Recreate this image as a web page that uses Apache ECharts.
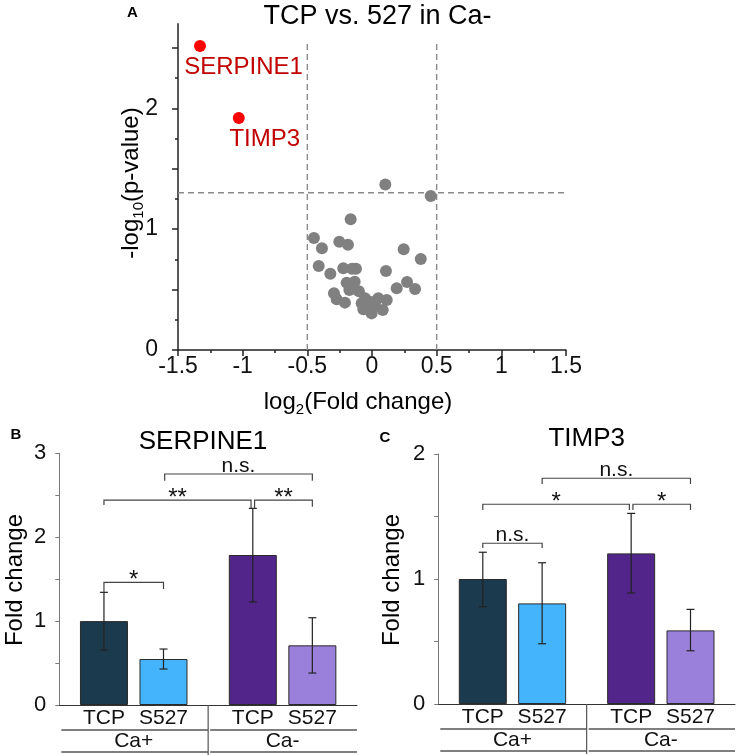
<!DOCTYPE html>
<html><head><meta charset="utf-8">
<script src="https://cdn.jsdelivr.net/npm/echarts@6/dist/echarts.min.js"></script>
<style>html,body{margin:0;padding:0;background:#fff}#c{width:736px;height:755px}</style>
</head><body><div id="c"></div>
<script>
// ---------- Panel A: volcano data ----------
const volcanoX = [0.103, 0.454, -0.165, -0.449, -0.253, -0.186, -0.387, 0.245, 0.377, -0.412,
  -0.222, -0.155, -0.124, -0.322, 0.108, 0.271, 0.191, 0.333, -0.196, -0.134,
  -0.101, -0.294, -0.273, -0.209, -0.175, -0.080, -0.054, -0.015, 0.049, 0.114,
  -0.067, -0.010, 0.083, -0.028, 0.023, -0.003, -0.045];
const volcanoY = [1.37, 1.274, 1.081, 0.927, 0.896, 0.871, 0.841, 0.833, 0.753, 0.695,
  0.676, 0.673, 0.673, 0.631, 0.654, 0.563, 0.510, 0.505, 0.557, 0.565,
  0.486, 0.469, 0.420, 0.392, 0.496, 0.386, 0.428, 0.400, 0.428, 0.414,
  0.337, 0.317, 0.331, 0.358, 0.372, 0.303, 0.360];
const hitNames = ['SERPINE1', 'TIMP3'];
const hitX = [-1.33, -1.03];
const hitY = [2.515, 1.92];
const fcCutoffs = [-0.5, 0.5];
const pCutoff = 1.301;
const cutoffTop = 2.55;
const volcanoXRange = [-1.5, 1.5];
const volcanoYMax = 2.7;
const volcanoYMajorTicks = [0, 0.5, 1, 1.5, 2, 2.5];
const volcanoYMinorTicks = [0.25, 0.75, 1.25, 1.75, 2.25];
const volcanoYLabels = [0, 1, 2];

// ---------- Panels B/C: bar data ----------
const barNames = ['TCP', 'S527', 'TCP', 'S527'];
const barPos = [1, 2, 3.5, 4.5];
const groupNames = ['Ca+', 'Ca-'];
const groupBounds = [[0.25, 2.75], [2.75, 5.25]];

const serpineMean = [1.0, 0.548, 1.788, 0.711];
const serpineLow  = [0.655, 0.429, 1.228, 0.381];
const serpineHigh = [1.343, 0.667, 2.344, 1.04];
const serpineYLabels = [0, 1, 2, 3];
// [x1, x2, yLine, yLeftEnd, yRightEnd, text]
const serpineBrackets = [
  [1, 2, 1.462, 1.343, 1.383, '*'],
  [1, 3.47, 2.443, 2.384, 2.348, '**'],
  [3.53, 4.5, 2.443, 2.348, 2.364, '**'],
  [2.02, 4.5, 2.753, 2.673, 2.673, 'n.s.']
];

const timpMean = [1.0, 0.805, 1.205, 0.589];
const timpLow  = [0.779, 0.482, 0.888, 0.426];
const timpHigh = [1.214, 1.13, 1.525, 0.757];
const timpYLabels = [0, 1, 2];
const timpBrackets = [
  [1, 2, 1.286, 1.248, 1.248, 'n.s.'],
  [1, 3.47, 1.598, 1.552, 1.552, '*'],
  [3.53, 4.5, 1.598, 1.552, 1.552, '*'],
  [2.0, 4.5, 1.806, 1.76, 1.76, 'n.s.']
];

// ---------- styles ----------
const FONT = '"Liberation Sans", Arial, Helvetica, sans-serif';
const barColors = ['#1b3a4e', '#44b4fc', '#52258a', '#9a80da'];

const chart = echarts.init(document.getElementById('c'), null, {renderer: 'canvas'});

function barData(mean) {
  return mean.map((v, i) => ({value: [barPos[i], v], itemStyle: {color: barColors[i]}}));
}
function errData(low, high) {
  return low.map((l, i) => [barPos[i], l, high[i]]);
}
function renderErr(params, api) {
  const x = api.value(0);
  const p1 = api.coord([x, api.value(2)]);
  const p2 = api.coord([x, api.value(1)]);
  const c = 4;
  const st = {stroke: '#222', lineWidth: 1.2};
  return {type: 'group', children: [
    {type: 'line', shape: {x1: p1[0], y1: p1[1], x2: p2[0], y2: p2[1]}, style: st},
    {type: 'line', shape: {x1: p1[0] - c, y1: p1[1], x2: p1[0] + c, y2: p1[1]}, style: st},
    {type: 'line', shape: {x1: p2[0] - c, y1: p2[1], x2: p2[0] + c, y2: p2[1]}, style: st}
  ]};
}
function renderBracket(params, api) {
  const x1 = api.value(0), x2 = api.value(1), y = api.value(2);
  const a = api.coord([x1, api.value(3)]);
  const b = api.coord([x1, y]);
  const c = api.coord([x2, y]);
  const d = api.coord([x2, api.value(4)]);
  const label = String(api.value(5));
  const isStar = label.indexOf('*') === 0;
  return {type: 'group', children: [
    {type: 'polyline', shape: {points: [a, b, c, d]}, style: {stroke: '#444', fill: null, lineWidth: 1.2}},
    {type: 'text', style: {text: label, x: (b[0] + c[0]) / 2,
      y: isStar ? b[1] - 1.5 : b[1] - 8.3,
      fill: '#111', font: (isStar ? '24px ' : '21px ') + FONT,
      align: 'center', verticalAlign: 'middle'}}
  ]};
}
function renderTable(params, api) {
  const s = api.value(0), e = api.value(1), idx = api.value(2);
  const ps = api.coord([s, 0]);
  const pe = api.coord([e, 0]);
  const y0 = ps[1];
  const st = {stroke: '#555', lineWidth: 1.6};
  const children = [
    {type: 'line', shape: {x1: ps[0] + 2, y1: y0 + 25, x2: pe[0], y2: y0 + 25}, style: st},
    {type: 'line', shape: {x1: ps[0] + 2, y1: y0 + 47, x2: pe[0], y2: y0 + 47}, style: st},
    {type: 'text', style: {text: groupNames[idx], x: (ps[0] + pe[0]) / 2, y: y0 + 36,
      fill: '#111', font: '21px ' + FONT, align: 'center', verticalAlign: 'middle'}}
  ];
  if (idx > 0) children.push({type: 'line', shape: {x1: ps[0], y1: y0, x2: ps[0], y2: y0 + 50}, style: {stroke: '#555', lineWidth: 1.2}});
  return {type: 'group', children};
}
const tableData = groupBounds.map((g, i) => [g[0], g[1], i]);

function barXAxis(gridIndex) {
  return {type: 'value', gridIndex, min: 0.25, max: 5.25,
    axisLine: {show: true, onZero: false, lineStyle: {color: '#333', width: 1}},
    axisTick: {show: false}, splitLine: {show: false},
    axisLabel: {customValues: barPos, margin: 3, color: '#111', fontSize: 21, fontFamily: FONT,
      formatter: v => barNames[barPos.indexOf(v)] || ''}};
}
function barYAxis(gridIndex, max, labels) {
  return {type: 'value', gridIndex, min: 0, max, interval: 0.5,
    axisLine: {show: true, onZero: false, lineStyle: {color: '#777', width: 1}},
    axisTick: {show: true, length: 4, lineStyle: {color: '#777'}},
    splitLine: {show: false},
    axisLabel: {customValues: labels, margin: 13, color: '#111', fontSize: 22, fontFamily: FONT}};
}

const dash = {color: '#8a8a8a', width: 1.4, type: [6, 4]};

const option = {
  animation: false,
  backgroundColor: '#fff',
  grid: [
    {left: 178, top: 23.7, width: 388, height: 326.3},
    {left: 59.3, top: 453.3, width: 297.7, height: 251.7},
    {left: 438.3, top: 454, width: 296.7, height: 250}
  ],
  xAxis: [
    {type: 'value', gridIndex: 0, min: volcanoXRange[0], max: volcanoXRange[1], interval: 0.5,
      axisLine: {show: true, onZero: false, lineStyle: {color: '#222', width: 1.5}},
      axisTick: {show: true, length: 6, lineStyle: {color: '#222', width: 1.5}},
      minorTick: {show: true, splitNumber: 2, length: 3, lineStyle: {color: '#222', width: 1.5}},
      splitLine: {show: false}, minorSplitLine: {show: false},
      axisLabel: {margin: 5, color: '#111', fontSize: 23, fontFamily: FONT}},
    barXAxis(1),
    barXAxis(2)
  ],
  yAxis: [
    {type: 'value', gridIndex: 0, min: 0, max: volcanoYMax,
      axisLine: {show: true, onZero: false, lineStyle: {color: '#222', width: 1.5}},
      axisTick: {show: true, length: 6, customValues: volcanoYMajorTicks, lineStyle: {color: '#222', width: 1.5}},
      splitLine: {show: false},
      axisLabel: {customValues: volcanoYLabels, margin: 20, color: '#111', fontSize: 23, fontFamily: FONT}},
    {type: 'value', gridIndex: 0, min: 0, max: volcanoYMax, position: 'left',
      axisLine: {show: false, onZero: false},
      axisTick: {show: true, length: 3, customValues: volcanoYMinorTicks, lineStyle: {color: '#222', width: 1.5}},
      splitLine: {show: false}, axisLabel: {show: false}},
    barYAxis(1, 3, serpineYLabels),
    barYAxis(2, 2, timpYLabels)
  ],
  series: [
    {type: 'line', xAxisIndex: 0, yAxisIndex: 0, symbol: 'none', silent: true, z: 1,
      data: [[fcCutoffs[0], 0], [fcCutoffs[0], cutoffTop]], lineStyle: dash},
    {type: 'line', xAxisIndex: 0, yAxisIndex: 0, symbol: 'none', silent: true, z: 1,
      data: [[fcCutoffs[1], 0], [fcCutoffs[1], cutoffTop]], lineStyle: dash},
    {type: 'line', xAxisIndex: 0, yAxisIndex: 0, symbol: 'none', silent: true, z: 1,
      data: [[volcanoXRange[0], pCutoff], [volcanoXRange[1], pCutoff]], lineStyle: dash},
    {type: 'scatter', xAxisIndex: 0, yAxisIndex: 0, symbolSize: 12, z: 3,
      itemStyle: {color: '#808080', opacity: 1},
      data: volcanoX.map((x, i) => [x, volcanoY[i]])},
    {type: 'scatter', xAxisIndex: 0, yAxisIndex: 0, symbolSize: 12, z: 4,
      itemStyle: {color: '#ff0000', opacity: 1},
      label: {show: true, position: 'bottom', distance: 3, color: '#c00000', fontSize: 24, fontFamily: FONT,
        formatter: p => hitNames[p.dataIndex]},
      data: hitX.map((x, i) => ({value: [x, hitY[i]], label: {offset: [i === 0 ? 43.5 : 26, 0]}}))},

    {type: 'bar', xAxisIndex: 1, yAxisIndex: 2, barWidth: 48, z: 2,
      itemStyle: {borderColor: '#2a2a2a', borderWidth: 1}, data: barData(serpineMean)},
    {type: 'custom', xAxisIndex: 1, yAxisIndex: 2, z: 5, renderItem: renderErr, data: errData(serpineLow, serpineHigh)},
    {type: 'custom', xAxisIndex: 1, yAxisIndex: 2, z: 5, renderItem: renderBracket, data: serpineBrackets,
      dimensions: ['x1', 'x2', 'y', 'e1', 'e2', {name: 't', type: 'ordinal'}]},
    {type: 'custom', xAxisIndex: 1, yAxisIndex: 2, z: 5, renderItem: renderTable, data: tableData},

    {type: 'bar', xAxisIndex: 2, yAxisIndex: 3, barWidth: 48, z: 2,
      itemStyle: {borderColor: '#2a2a2a', borderWidth: 1}, data: barData(timpMean)},
    {type: 'custom', xAxisIndex: 2, yAxisIndex: 3, z: 5, renderItem: renderErr, data: errData(timpLow, timpHigh)},
    {type: 'custom', xAxisIndex: 2, yAxisIndex: 3, z: 5, renderItem: renderBracket, data: timpBrackets,
      dimensions: ['x1', 'x2', 'y', 'e1', 'e2', {name: 't', type: 'ordinal'}]},
    {type: 'custom', xAxisIndex: 2, yAxisIndex: 3, z: 5, renderItem: renderTable, data: tableData}
  ],
  graphic: {elements: [
    {type: 'text', x: 132.5, y: 13, style: {text: 'A', font: 'bold 15px ' + FONT, fill: '#000', align: 'center', verticalAlign: 'middle'}},
    {type: 'text', x: 16, y: 435, style: {text: 'B', font: 'bold 15px ' + FONT, fill: '#000', align: 'center', verticalAlign: 'middle'}},
    {type: 'text', x: 385, y: 437.5, style: {text: 'C', font: 'bold 15px ' + FONT, fill: '#000', align: 'center', verticalAlign: 'middle'}},
    {type: 'text', x: 377.5, y: 17, style: {text: 'TCP vs. 527 in Ca-', font: '27px ' + FONT, fill: '#000', align: 'center', verticalAlign: 'middle'}},
    {type: 'text', x: 203, y: 441.5, style: {text: 'SERPINE1', font: '26px ' + FONT, fill: '#000', align: 'center', verticalAlign: 'middle'}},
    {type: 'text', x: 586.7, y: 438.5, style: {text: 'TIMP3', font: '26px ' + FONT, fill: '#000', align: 'center', verticalAlign: 'middle'}},
    {type: 'text', x: 358, y: 402, style: {text: '{a|log}{s|2}{a|(Fold change)}', align: 'center', verticalAlign: 'middle',
      rich: {a: {fontSize: 24, fontFamily: FONT, fill: '#000', lineHeight: 30},
             s: {fontSize: 15, fontFamily: FONT, fill: '#000', lineHeight: 14, verticalAlign: 'bottom'}}}},
    {type: 'text', x: 131, y: 183, rotation: Math.PI / 2, style: {text: '{a|-log}{s|10}{a|(p-value)}', align: 'center', verticalAlign: 'middle',
      rich: {a: {fontSize: 24, fontFamily: FONT, fill: '#000', lineHeight: 30},
             s: {fontSize: 15, fontFamily: FONT, fill: '#000', lineHeight: 14, verticalAlign: 'bottom'}}}},
    {type: 'text', x: 15, y: 580, rotation: Math.PI / 2, style: {text: 'Fold change', font: '24px ' + FONT, fill: '#000', align: 'center', verticalAlign: 'middle'}},
    {type: 'text', x: 392, y: 580, rotation: Math.PI / 2, style: {text: 'Fold change', font: '24px ' + FONT, fill: '#000', align: 'center', verticalAlign: 'middle'}}
  ]}
};
chart.setOption(option);
</script></body></html>
